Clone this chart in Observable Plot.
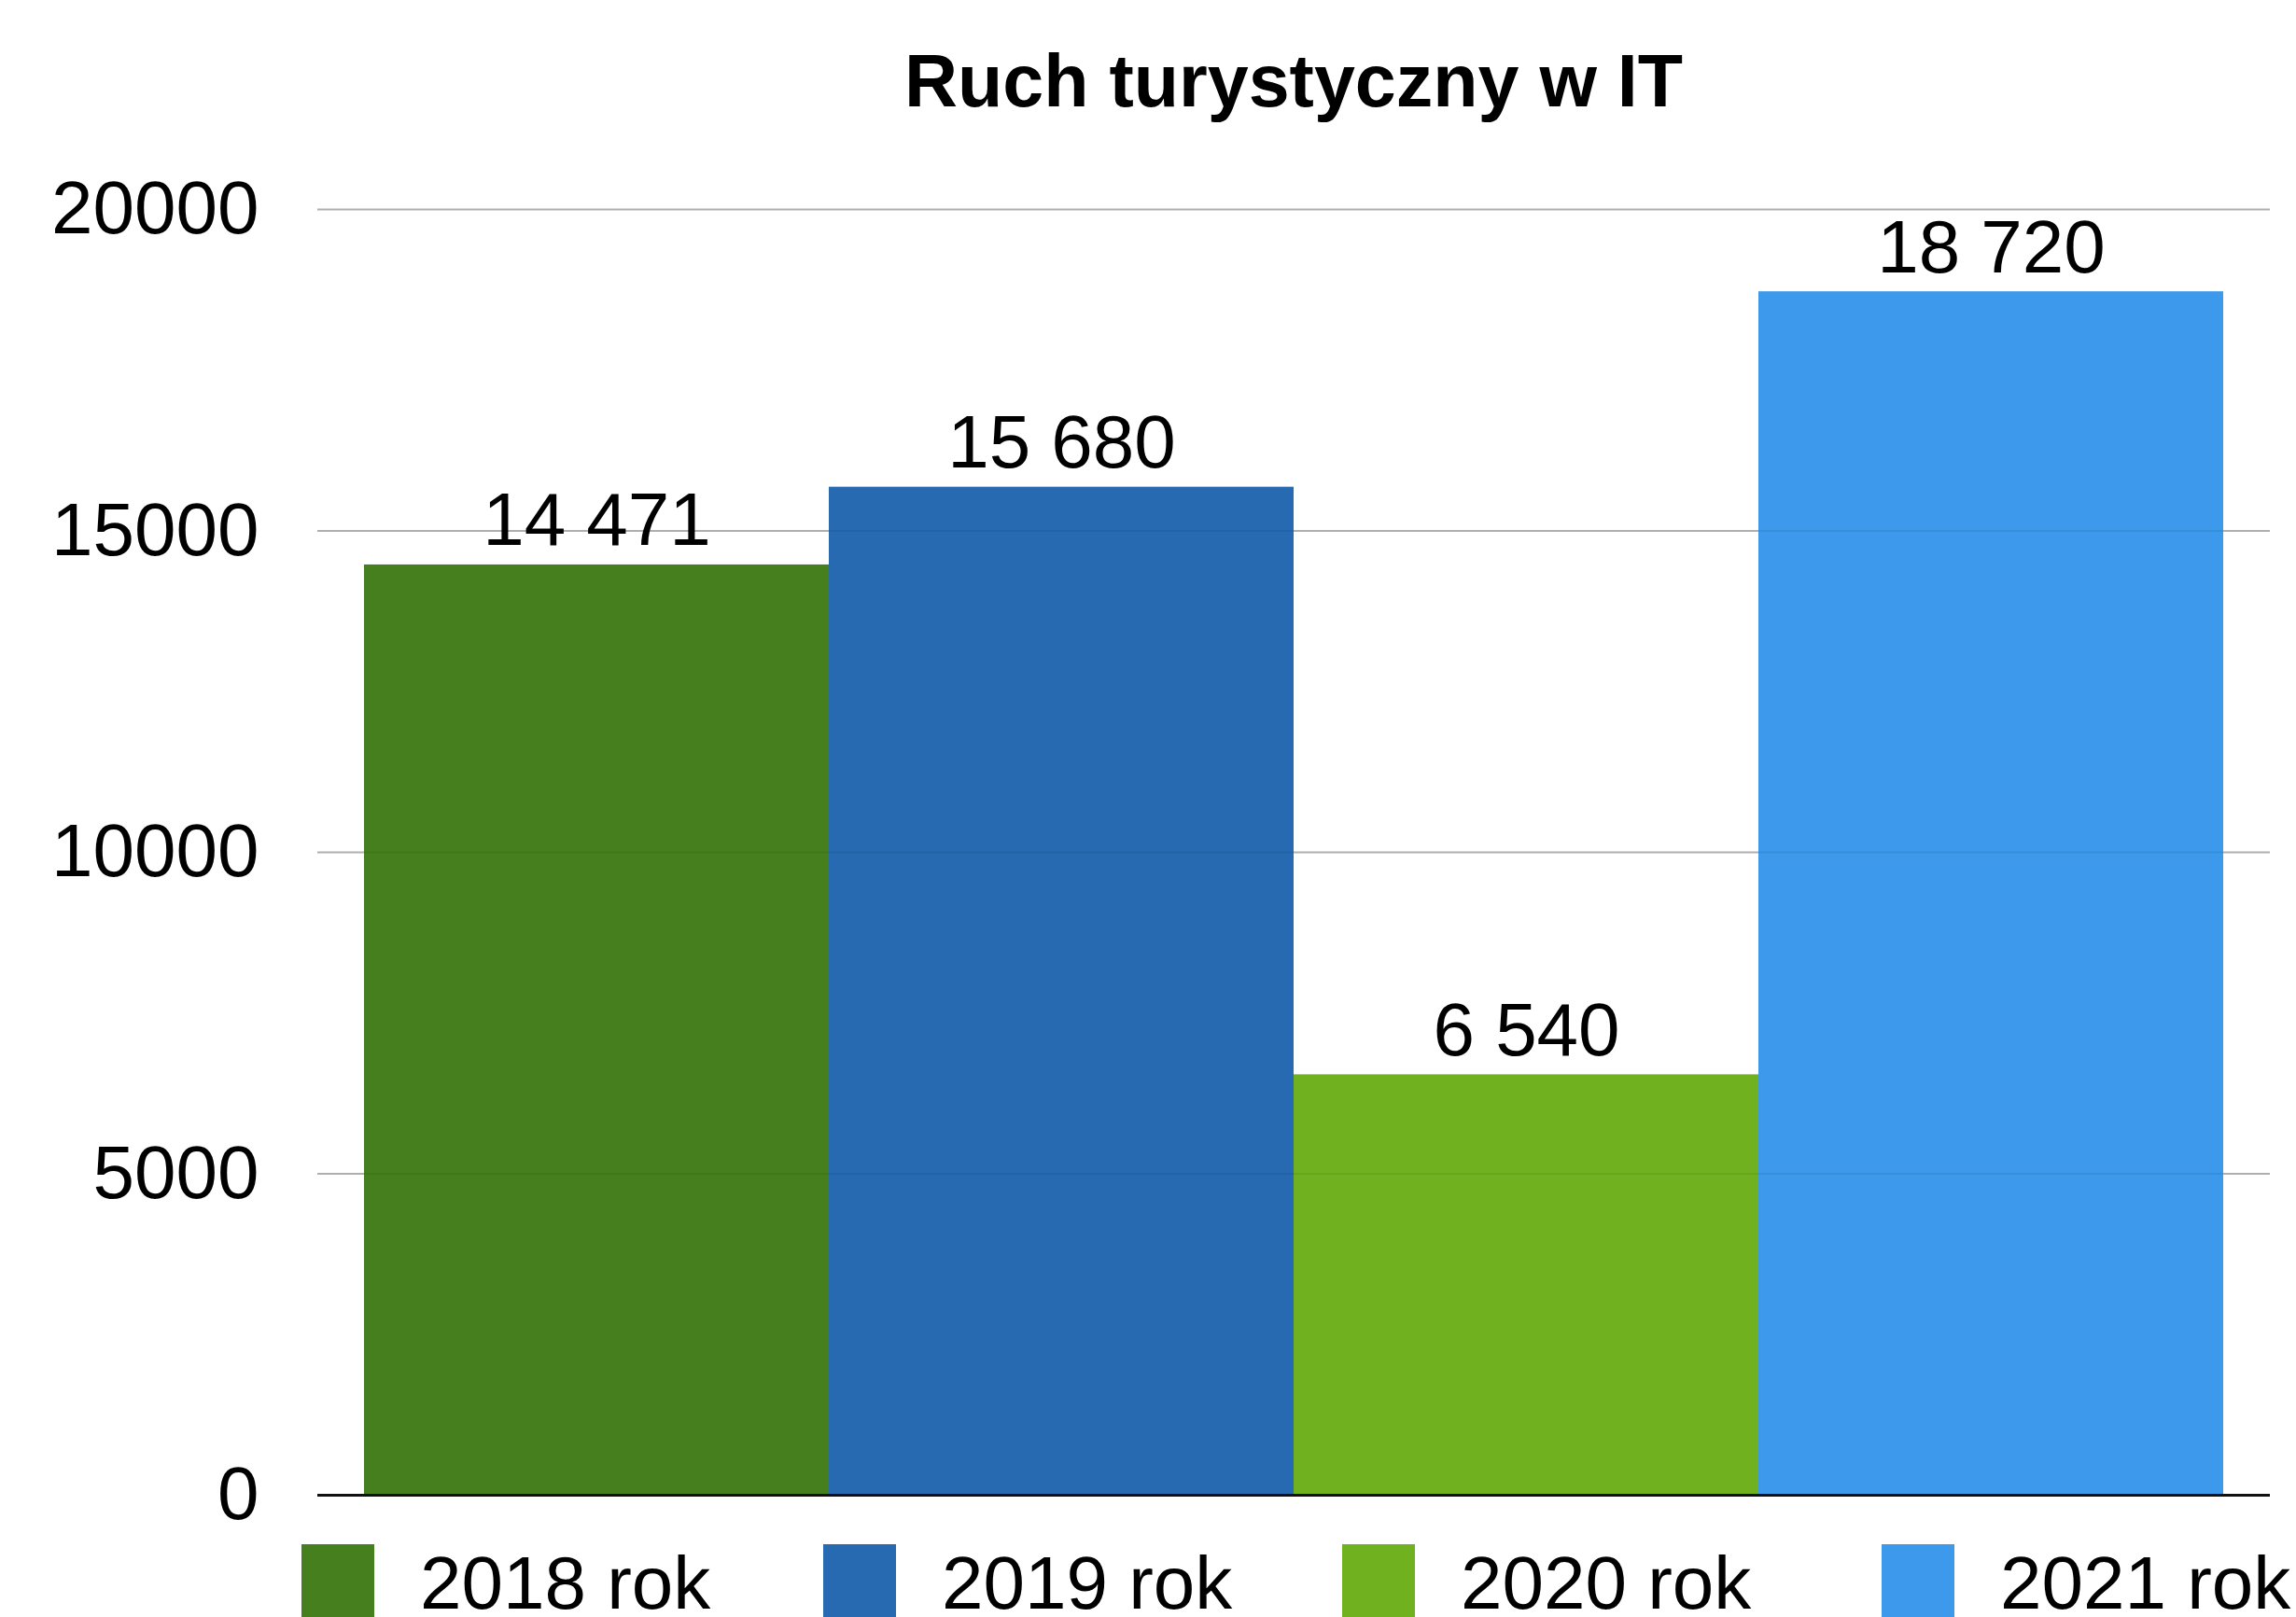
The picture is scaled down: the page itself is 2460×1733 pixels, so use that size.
<!DOCTYPE html>
<html><head><meta charset="utf-8">
<script src="https://cdn.jsdelivr.net/npm/d3@7"></script>
<script src="https://cdn.jsdelivr.net/npm/@observablehq/plot@0.6"></script>
<style>
body{margin:0;background:#fff;font-family:"Liberation Sans",Arial,Helvetica,sans-serif;width:2460px;height:1733px;overflow:hidden;color:#000}
#title{height:140px;position:relative}
#title span{position:absolute;left:1386px;top:47px;transform:translateX(-50%);font-weight:bold;font-size:79px;line-height:1;white-space:nowrap}
#chart{height:1505px}
#legend{position:relative;height:88px}
.sw{position:absolute;top:10px;width:78px;height:100px}
.lb{position:absolute;top:23px;font-size:80px;line-height:0.72;white-space:nowrap}
</style>
</head><body>
<div id="title"><span>Ruch turystyczny w IT</span></div>
<div id="chart"></div>
<div id="legend"></div>
<script>
const years = ["2018 rok", "2019 rok", "2020 rok", "2021 rok"];
const values = [14471, 15680, 6540, 18720];
const colors = ["#467F1E", "#276AB2", "#70B11F", "#3C99EC"];
const yTicks = [0, 5000, 10000, 15000, 20000];

const data = years.map((y, i) => ({year: y, value: values[i]}));
const fmt = d3.formatLocale({thousands: "\u00a0", grouping: [3], decimal: ",", currency: ["", ""]}).format(",");

const chart = Plot.plot({
  width: 2460, height: 1505,
  marginTop: 84, marginBottom: 43, marginLeft: 340, marginRight: 28,
  style: {fontFamily: "Liberation Sans, Arial, sans-serif", fontSize: "80px", color: "#000", background: "#fff"},
  x: {domain: years, paddingInner: 0, paddingOuter: 0.1, axis: null},
  y: {domain: [0, 20000], axis: null, label: null},
  color: {domain: years, range: colors},
  marks: [
    Plot.ruleY(yTicks.filter(d => d > 0), {stroke: "#bdbdbd", strokeWidth: 2}),
    Plot.barY(data, {x: "year", y: "value", fill: "year"}),
    Plot.ruleY(yTicks.filter(d => d > 0), {stroke: "#000", strokeOpacity: 0.07, strokeWidth: 2}),
    Plot.ruleY([0], {stroke: "#111", strokeWidth: 3}),
    Plot.axisY({ticks: yTicks, tickSize: 0, tickPadding: 63, tickFormat: d => String(d), fontSize: 80, label: null}),
    Plot.text(data, {x: "year", y: "value", text: d => fmt(d.value), dy: -21, lineAnchor: "bottom", fontSize: 80, fill: "#000"})
  ]
});
document.getElementById("chart").appendChild(chart);

// legend layout (style only): left edge of each swatch, and text offset from it
const legendLeft = [323, 882, 1438, 2016];
const textOffset = 127;
const legend = document.getElementById("legend");
years.forEach((y, i) => {
  const sw = document.createElement("div");
  sw.className = "sw";
  sw.style.left = legendLeft[i] + "px";
  sw.style.background = colors[i];
  const lb = document.createElement("div");
  lb.className = "lb";
  lb.style.left = (legendLeft[i] + textOffset) + "px";
  lb.textContent = y;
  legend.appendChild(sw);
  legend.appendChild(lb);
});
</script>
</body></html>
